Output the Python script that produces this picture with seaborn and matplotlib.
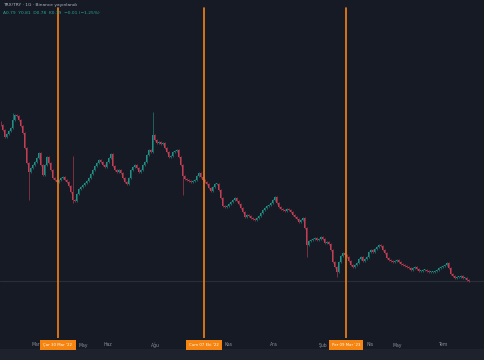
import numpy as np
import pandas as pd
import matplotlib
matplotlib.use("Agg")
import matplotlib.pyplot as plt
import seaborn as sns

# closes, one per candle
closes = [
    2.35, 2.30, 2.23, 2.26, 2.29, 2.32, 2.40, 2.45, 2.44, 2.40, 2.34, 2.27, 2.12, 1.97, 1.88, 1.92, 1.95, 1.98, 2.02, 2.07,
    1.95, 1.85, 1.95, 2.03, 1.97, 1.90, 1.82, 1.80, 1.78, 1.80, 1.82, 1.83, 1.80, 1.78, 1.74, 1.68, 1.60, 1.59, 1.66, 1.71,
    1.73, 1.75, 1.77, 1.79, 1.82, 1.86, 1.90, 1.94, 1.97, 2.00, 1.98, 1.95, 1.93, 1.98, 2.02, 2.06, 1.94, 1.90, 1.88, 1.90,
    1.87, 1.82, 1.78, 1.76, 1.82, 1.90, 1.93, 1.95, 1.92, 1.88, 1.90, 1.95, 1.98, 2.05, 2.10, 2.08, 2.25, 2.20, 2.17, 2.18,
    2.16, 2.17, 2.12, 2.08, 2.03, 2.04, 2.08, 2.09, 2.10, 2.03, 1.95, 1.84, 1.81, 1.80, 1.79, 1.78, 1.79, 1.80, 1.84, 1.87,
    1.83, 1.80, 1.78, 1.76, 1.72, 1.69, 1.73, 1.76, 1.76, 1.70, 1.62, 1.54, 1.53, 1.54, 1.56, 1.58, 1.60, 1.62, 1.59, 1.56,
    1.52, 1.48, 1.43, 1.45, 1.44, 1.42, 1.41, 1.40, 1.42, 1.44, 1.47, 1.50, 1.52, 1.54, 1.55, 1.57, 1.60, 1.63, 1.57, 1.53,
    1.51, 1.50, 1.49, 1.51, 1.50, 1.48, 1.45, 1.43, 1.41, 1.38, 1.40, 1.42, 1.32, 1.15, 1.19, 1.20, 1.21, 1.22, 1.20, 1.21,
    1.23, 1.21, 1.17, 1.18, 1.16, 1.10, 0.98, 0.93, 0.88, 0.98, 1.04, 1.07, 1.05, 1.03, 0.99, 0.95, 0.93, 0.95, 0.97, 1.01,
    1.03, 0.99, 1.01, 1.03, 1.08, 1.10, 1.08, 1.11, 1.13, 1.15, 1.14, 1.10, 1.07, 1.02, 1.00, 0.99, 0.98, 0.99, 1.00, 0.98,
    0.96, 0.95, 0.94, 0.93, 0.92, 0.90, 0.92, 0.93, 0.91, 0.89, 0.89, 0.90, 0.90, 0.89, 0.88, 0.88, 0.88, 0.89, 0.90, 0.92,
    0.93, 0.94, 0.95, 0.97, 0.92, 0.86, 0.84, 0.82, 0.83, 0.83, 0.84, 0.82, 0.82, 0.80, 0.79,
]
first_open = 2.38

# the few long wicks that stand out (candle index -> price)
wick_highs = {76: 2.48, 6: 2.47, 36: 2.04}
wick_lows = {14: 1.60, 91: 1.65, 153: 1.03, 168: 0.83, 36: 1.57}

# event lines and their labels
event_idx = [28.5, 101.5, 172.5]
event_labels = ["Çar 30 Mar '22", "Cum 07 Eki '22", "Per 09 Mar '23"]

# time axis ticks
tick_idx = [17.5, 41, 53.5, 77, 114, 136.5, 161, 184.5, 198, 221]
tick_labels = ["Mar", "May", "Haz", "Ağu", "Kas", "Ara", "Şub", "Nis", "May", "Tem"]

header = "TRX/TRY · 1G · Binance yayınlandı"
ohlc_text = "A0.79  Y0.81  D0.78  K0.79  −0.01 (−1.25%)"

BG = "#161a25"
UP = "#26a69a"
DOWN = "#e0455e"
ORANGE = "#f68410"
WICK = 0.012  # short default wick, drawing style only

sns.set_theme(style="dark", rc={"axes.facecolor": BG, "figure.facecolor": BG})
plt.rcParams["font.family"] = ["DejaVu Sans"]

df = pd.DataFrame({"close": closes})
df["open"] = [first_open] + closes[:-1]
df["high"] = df[["open", "close"]].max(axis=1) + WICK
df["low"] = df[["open", "close"]].min(axis=1) - WICK
for k, v in wick_highs.items():
    df.loc[k, "high"] = v
for k, v in wick_lows.items():
    df.loc[k, "low"] = v
df["up"] = df["close"] >= df["open"]
df["color"] = np.where(df["up"], UP, DOWN)

fig = plt.figure(figsize=(4.85, 3.6), dpi=100)
ax = fig.add_axes([0, 22 / 360, 1, 338 / 360])
ax.set_facecolor(BG)

# last price line
ax.axhline(closes[-1], color="#2a2e39", lw=0.8, zorder=1)

ax.vlines(df.index, df["low"], df["high"], colors=df["color"], lw=0.5, alpha=0.7, zorder=2)
body = (df["close"] - df["open"]).abs().clip(lower=0.008)
ax.bar(df.index, body, bottom=df[["open", "close"]].min(axis=1), width=0.5,
       color=df["color"], alpha=0.85, linewidth=0, zorder=3)

for xi in event_idx:
    ax.axvline(xi, ymin=0, ymax=1 - 8 / 338, color=ORANGE, lw=1.2, zorder=4)

ax.set_xlim(-0.5, 242)
ax.set_ylim(0.22, 3.60)
ax.set_xticks([])
ax.set_yticks([])
for s in ax.spines.values():
    s.set_visible(False)

# bottom toolbar band
fig.patches.append(plt.Rectangle((0, 0), 1, 11 / 360, transform=fig.transFigure,
                                 facecolor="#1e222d", edgecolor="none", zorder=0))

def to_fig_x(i):
    return (i + 0.5) / 242.5

ty = 1 - 345 / 360
for xi, lab in zip(tick_idx, tick_labels):
    fig.text(to_fig_x(xi), ty, lab, color="#8a8e99", fontsize=3.3, ha="center", va="center")
for xi, lab in zip(event_idx, event_labels):
    fig.text(to_fig_x(xi), ty, lab, color="white", fontsize=2.8, ha="center", va="center",
             bbox=dict(boxstyle="square,pad=0.8", facecolor=ORANGE, edgecolor="none"))

fig.text(3 / 485, 1 - 5 / 360, header, color="#b2b5be", fontsize=3.2, ha="left", va="center")
fig.text(3 / 485, 1 - 13 / 360, ohlc_text, color=UP, fontsize=3.2, ha="left", va="center")

fig.savefig("out.png", dpi=100, facecolor=BG)
